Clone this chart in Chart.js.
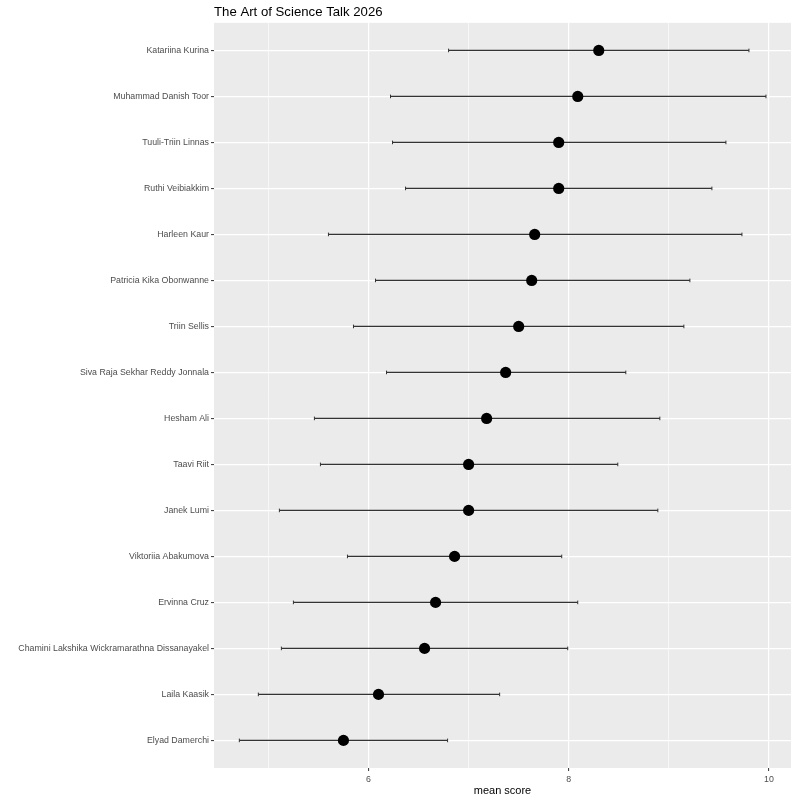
<!DOCTYPE html>
<html>
<head>
<meta charset="utf-8">
<script src="https://cdn.jsdelivr.net/npm/chart.js@4.4.1/dist/chart.umd.min.js"></script>
<style>
html,body{margin:0;padding:0;background:#fff;}
#wrap{width:800px;height:800px;}
</style>
</head>
<body>
<div id="wrap"><canvas id="c" width="800" height="800"></canvas></div>
<script>
const names = ["Katariina Kurina","Muhammad Danish Toor","Tuuli-Triin Linnas","Ruthi Veibiakkim","Harleen Kaur","Patricia Kika Obonwanne","Triin Sellis","Siva Raja Sekhar Reddy Jonnala","Hesham Ali","Taavi Riit","Janek Lumi","Viktoriia Abakumova","Ervinna Cruz","Chamini Lakshika Wickramarathna Dissanayakel","Laila Kaasik","Elyad Damerchi"];
const meanScore = [8.30, 8.09, 7.90, 7.90, 7.66, 7.63, 7.50, 7.37, 7.18, 7.00, 7.00, 6.86, 6.67, 6.56, 6.10, 5.75];
const lowerScore = [6.80, 6.22, 6.24, 6.37, 5.60, 6.07, 5.85, 6.18, 5.46, 5.52, 5.11, 5.79, 5.25, 5.13, 4.90, 4.71];
const upperScore = [9.80, 9.97, 9.57, 9.43, 9.73, 9.21, 9.15, 8.57, 8.91, 8.49, 8.89, 7.93, 8.09, 7.99, 7.31, 6.79];
const xTicks = [5, 6, 7, 8, 9, 10];
const xTickLabels = ["", "6", "", "8", "", "10"];

const FONT = "'Liberation Sans', Arial, Helvetica, sans-serif";
const barColor = '#333333';

const datasets = [];
names.forEach((n, i) => {
  datasets.push({
    type: 'line',
    data: [{x: lowerScore[i], y: i}, {x: upperScore[i], y: i}],
    borderColor: barColor,
    borderWidth: 1.3,
    pointRadius: 0,
    fill: false,
    order: 3
  });
});
const caps = [];
names.forEach((n, i) => { caps.push({x: lowerScore[i], y: i}); caps.push({x: upperScore[i], y: i}); });
datasets.push({
  type: 'scatter',
  data: caps,
  pointStyle: 'line',
  rotation: 90,
  pointRadius: 1.8,
  borderColor: barColor,
  borderWidth: 1,
  order: 2
});
datasets.push({
  type: 'scatter',
  data: meanScore.map((m, i) => ({x: m, y: i})),
  pointStyle: 'circle',
  pointRadius: 5.6,
  backgroundColor: '#000000',
  borderColor: '#000000',
  borderWidth: 0,
  order: 1
});

const panelBg = {
  id: 'panelBg',
  beforeDraw(chart) {
    const {ctx, chartArea: a} = chart;
    ctx.save();
    ctx.fillStyle = '#EBEBEB';
    ctx.fillRect(a.left, a.top, a.right - a.left, a.bottom - a.top);
    ctx.restore();
  }
};

new Chart(document.getElementById('c'), {
  type: 'scatter',
  data: {datasets},
  plugins: [panelBg],
  options: {
    responsive: false,
    animation: false,
    layout: {padding: {left: 0, right: 9, top: 0, bottom: 0}},
    plugins: {
      legend: {display: false},
      tooltip: {enabled: false},
      title: {
        display: true,
        text: 'The Art of Science Talk 2026',
        align: 'start',
        fullSize: false,
        color: '#000000',
        font: {family: FONT, size: 13.2, weight: 'normal', lineHeight: 1.2},
        padding: {top: 4, bottom: 3}
      }
    },
    scales: {
      x: {
        type: 'linear',
        min: 4.457,
        max: 10.22,
        afterBuildTicks(scale) { scale.ticks = xTicks.map(v => ({value: v})); },
        afterFit(scale) { scale.height = 32; },
        border: {display: false},
        grid: {
          color: '#FFFFFF',
          lineWidth: ctx => (ctx.tick && ctx.tick.value % 2 === 0) ? 1.2 : 0.6,
          tickColor: ctx => (ctx.tick && ctx.tick.value % 2 === 0) ? '#333333' : 'rgba(0,0,0,0)',
          tickLength: 3,
          tickWidth: 1
        },
        ticks: {
          autoSkip: false,
          maxRotation: 0,
          padding: 3,
          color: '#4D4D4D',
          font: {family: FONT, size: 8.8},
          callback: (v) => { const k = xTicks.indexOf(v); return k >= 0 ? xTickLabels[k] : ''; }
        },
        title: {
          display: true,
          text: 'mean score',
          color: '#000000',
          font: {family: FONT, size: 11},
          padding: {top: 0, bottom: 2}
        }
      },
      y: {
        type: 'linear',
        reverse: true,
        min: -0.6,
        max: names.length - 1 + 0.6,
        afterBuildTicks(scale) { scale.ticks = names.map((n, i) => ({value: i})); },
        afterFit(scale) { scale.width = 214; },
        border: {display: false},
        grid: {
          color: '#FFFFFF',
          lineWidth: 1.2,
          tickColor: '#333333',
          tickLength: 3,
          tickWidth: 1
        },
        ticks: {
          autoSkip: false,
          padding: 2,
          color: '#4D4D4D',
          font: {family: FONT, size: 8.8},
          callback: (v) => names[v] !== undefined ? names[v] : ''
        }
      }
    }
  }
});
</script>
</body>
</html>
